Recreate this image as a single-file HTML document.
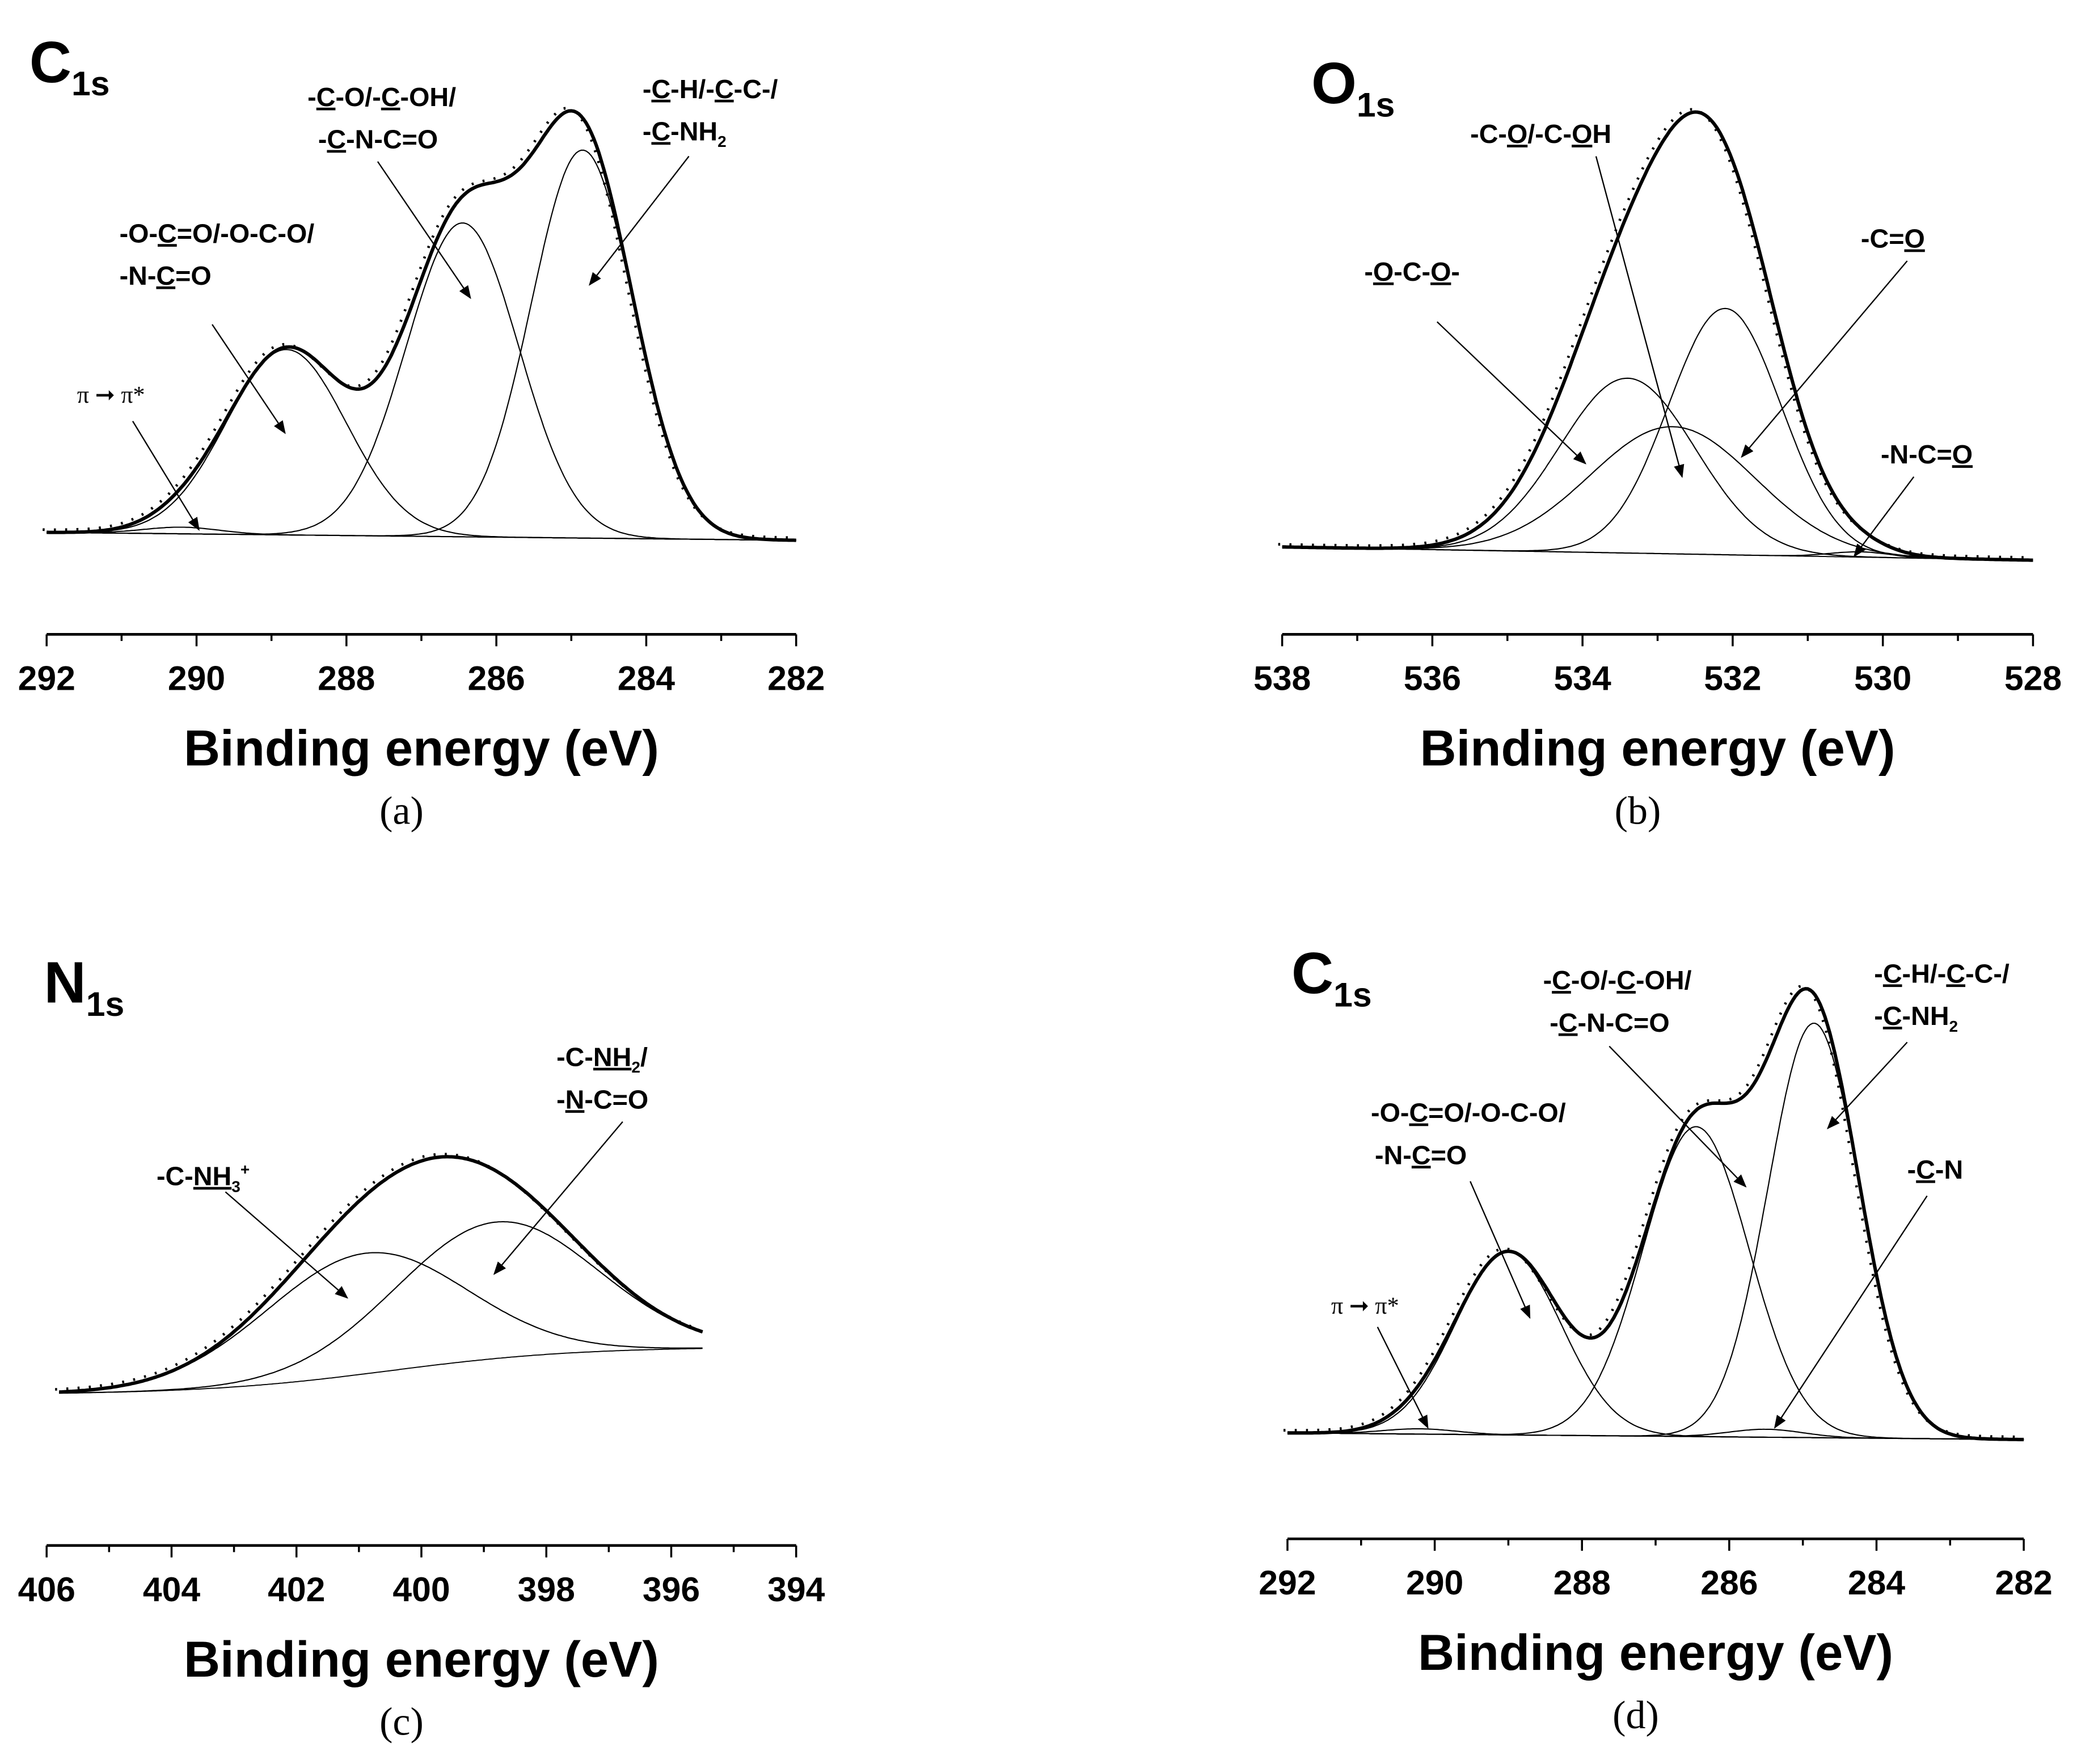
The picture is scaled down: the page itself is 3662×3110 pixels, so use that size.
<!DOCTYPE html>
<html><head><meta charset="utf-8"><style>
html,body{margin:0;padding:0;background:#fff}
svg{display:block}
.t{font-family:"Liberation Sans",sans-serif;font-weight:bold;fill:#000}
.s{font-family:"Liberation Serif",serif;fill:#000}
</style></head><body>
<svg id="fig" width="3662" height="3110" viewBox="0 0 1568 1332" xmlns="http://www.w3.org/2000/svg">
<defs><marker id="ah" markerWidth="10" markerHeight="8" refX="9" refY="4" orient="auto" markerUnits="userSpaceOnUse"><path d="M0,0 L10,4 L0,8 z" fill="#000"/></marker></defs>
<g id="ann">
<text class="t" x="22" y="62" font-size="44">C<tspan font-size="26" dy="10">1s</tspan></text>
<text class="s" x="58" y="304" font-size="18">π ➞ π*</text>
<line x1="100" y1="318" x2="150" y2="400" stroke="#000" marker-end="url(#ah)"/>
<text class="t" x="90" y="183" font-size="20">-O-<tspan text-decoration="underline">C</tspan>=O/-O-C-O/</text>
<text class="t" x="90" y="215" font-size="20">-N-<tspan text-decoration="underline">C</tspan>=O</text>
<line x1="160" y1="245" x2="215" y2="327" stroke="#000" marker-end="url(#ah)"/>
<text class="t" x="232" y="80" font-size="20">-<tspan text-decoration="underline">C</tspan>-O/-<tspan text-decoration="underline">C</tspan>-OH/</text>
<text class="t" x="240" y="112" font-size="20">-<tspan text-decoration="underline">C</tspan>-N-C=O</text>
<line x1="285" y1="122" x2="355" y2="225" stroke="#000" marker-end="url(#ah)"/>
<text class="t" x="485" y="74" font-size="20">-<tspan text-decoration="underline">C</tspan>-H/-<tspan text-decoration="underline">C</tspan>-C-/</text>
<text class="t" x="485" y="106" font-size="20">-<tspan text-decoration="underline">C</tspan>-NH<tspan font-size="12" dy="5">2</tspan></text>
<line x1="520" y1="118" x2="445" y2="215" stroke="#000" marker-end="url(#ah)"/>

<text class="t" x="990" y="78" font-size="44">O<tspan font-size="26" dy="10">1s</tspan></text>
<text class="t" x="1110" y="108" font-size="20">-C-<tspan text-decoration="underline">O</tspan>/-C-<tspan text-decoration="underline">O</tspan>H</text>
<line x1="1205" y1="118" x2="1270" y2="360" stroke="#000" marker-end="url(#ah)"/>
<text class="t" x="1030" y="212" font-size="20">-<tspan text-decoration="underline">O</tspan>-C-<tspan text-decoration="underline">O</tspan>-</text>
<line x1="1085" y1="243" x2="1197" y2="350" stroke="#000" marker-end="url(#ah)"/>
<text class="t" x="1405" y="187" font-size="20">-C=<tspan text-decoration="underline">O</tspan></text>
<line x1="1440" y1="197" x2="1315" y2="345" stroke="#000" marker-end="url(#ah)"/>
<text class="t" x="1420" y="350" font-size="20">-N-C=<tspan text-decoration="underline">O</tspan></text>
<line x1="1445" y1="360" x2="1400" y2="420" stroke="#000" marker-end="url(#ah)"/>

<text class="t" x="33" y="757" font-size="44">N<tspan font-size="26" dy="10">1s</tspan></text>
<text class="t" x="118" y="895" font-size="20">-C-<tspan text-decoration="underline">NH</tspan><tspan font-size="12" dy="5">3</tspan><tspan font-size="12" dy="-13">+</tspan></text>
<line x1="170" y1="900" x2="262" y2="980" stroke="#000" marker-end="url(#ah)"/>
<text class="t" x="420" y="805" font-size="20">-C-<tspan text-decoration="underline">NH</tspan><tspan font-size="12" dy="5">2</tspan><tspan dy="-5">/</tspan></text>
<text class="t" x="420" y="837" font-size="20">-<tspan text-decoration="underline">N</tspan>-C=O</text>
<line x1="470" y1="847" x2="373" y2="962" stroke="#000" marker-end="url(#ah)"/>

<text class="t" x="975" y="750" font-size="44">C<tspan font-size="26" dy="10">1s</tspan></text>
<text class="t" x="1415" y="742" font-size="20">-<tspan text-decoration="underline">C</tspan>-H/-<tspan text-decoration="underline">C</tspan>-C-/</text>
<text class="t" x="1415" y="774" font-size="20">-<tspan text-decoration="underline">C</tspan>-NH<tspan font-size="12" dy="5">2</tspan></text>
<line x1="1440" y1="787" x2="1380" y2="852" stroke="#000" marker-end="url(#ah)"/>
<text class="t" x="1165" y="747" font-size="20">-<tspan text-decoration="underline">C</tspan>-O/-<tspan text-decoration="underline">C</tspan>-OH/</text>
<text class="t" x="1170" y="779" font-size="20">-<tspan text-decoration="underline">C</tspan>-N-C=O</text>
<line x1="1215" y1="790" x2="1318" y2="896" stroke="#000" marker-end="url(#ah)"/>
<text class="t" x="1035" y="847" font-size="20">-O-<tspan text-decoration="underline">C</tspan>=O/-O-C-O/</text>
<text class="t" x="1038" y="879" font-size="20">-N-<tspan text-decoration="underline">C</tspan>=O</text>
<line x1="1110" y1="892" x2="1155" y2="995" stroke="#000" marker-end="url(#ah)"/>
<text class="t" x="1440" y="890" font-size="20">-<tspan text-decoration="underline">C</tspan>-N</text>
<line x1="1455" y1="903" x2="1340" y2="1078" stroke="#000" marker-end="url(#ah)"/>
<text class="s" x="1005" y="992" font-size="18">π ➞ π*</text>
<line x1="1040" y1="1002" x2="1078" y2="1078" stroke="#000" marker-end="url(#ah)"/>
</g>
</svg>
<script>
// Panel data (energies in eV, intensities in arbitrary units)
const aCenters=[284.85,286.45,288.8,290.2];
const aHeights=[293,237,140,5];
const aSigmas=[0.68,0.75,0.8,0.5];
const aTicks=[292,290,288,286,284,282];
const bCenters=[533.4,532.1,532.8,530.3];
const bHeights=[132,186,96,4];
const bSigmas=[0.9,0.75,1.1,0.4];
const bTicks=[538,536,534,532,530,528];
const cCenters=[400.9,398.8];
const cHeights=[91,103];
const cSigmas=[1.6,1.6];
const cTicks=[406,404,402,400,398,396,394];
const dCenters=[284.85,286.45,289.0,285.5,290.2];
const dHeights=[313,234,138,6,4];
const dSigmas=[0.62,0.72,0.72,0.5,0.5];
const dTicks=[292,290,288,286,284,282];

const svg=document.getElementById('fig');
const NS='http://www.w3.org/2000/svg';
function mk(tag,attrs,parent){const e=document.createElementNS(NS,tag);for(const k in attrs)e.setAttribute(k,attrs[k]);(parent||svg).appendChild(e);return e;}

function panel(p){
  const g=mk('g',{});
  
  
  const X=e=>p.x0+(p.emax-e)/(p.emax-p.emin)*(p.x1-p.x0);
  const ax=mk('line',{x1:p.x0,y1:p.ay,x2:p.x1,y2:p.ay,stroke:'#000','stroke-width':2},g);
  
  
  for(let e=p.emin;e<=p.emax+1e-9;e+=1){
    const major=Math.abs((e-p.emin)%2)<1e-6;
    mk('line',{x1:X(e),y1:p.ay,x2:X(e),y2:p.ay+(major?9:5),stroke:'#000','stroke-width':1.5},g);
  }
  p.ticks.forEach(t=>{
    const tx=mk('text',{x:X(t),'text-anchor':'middle',class:'t','font-size':26},g);
    
    
    tx.setAttribute('y',p.ay+42);
    tx.textContent=t;
  });
  const xl=mk('text',{x:(p.x0+p.x1)/2,y:p.ay+99,'text-anchor':'middle',class:'t','font-size':38},g);
  
  
  xl.textContent='Binding energy (eV)';
  const cap=mk('text',{x:(p.x0+p.x1)/2-15,y:p.ay+143,'text-anchor':'middle',class:'s','font-size':30},g);
  
  
  cap.textContent='('+p.id+')';
  const N=300, pts=[];
  for(let i=0;i<=N;i++){const e=p.dmax-(p.dmax-p.dmin)*i/N;pts.push(e);}
  const gauss=(e,k)=>p.h[k]*Math.exp(-((e-p.c[k])**2)/(2*p.s[k]*p.s[k]));
  const bl=p.base;
  const path=f=>pts.map((e,i)=>(i?'L':'M')+X(e).toFixed(1)+','+f(e).toFixed(1)).join(' ');
  const b=mk('path',{d:path(e=>bl(e)),fill:'none',stroke:'#000','stroke-width':0.8},g);
  
  
  p.c.forEach((c,k)=>{
    const cp=mk('path',{d:path(e=>bl(e)-gauss(e,k)),fill:'none',stroke:'#000','stroke-width':0.9},g);
    
    
  });
  const env=e=>{let s=bl(e);p.c.forEach((c,k)=>s-=gauss(e,k));return s;};
  const ep=mk('path',{d:path(env),fill:'none',stroke:'#000','stroke-width':2.6},g);
  
  
  const dp=mk('path',{d:pts.map((e,i)=>(i?'L':'M')+(X(e)-3).toFixed(1)+','+(env(e)-2).toFixed(1)).join(' '),fill:'none',stroke:'#000','stroke-width':2,'stroke-dasharray':'1.5 7'},g);
  
  
}
panel({id:'a',x0:35,x1:601,ay:479,emin:282,emax:292,dmin:282,dmax:292,ticks:aTicks,c:aCenters,h:aHeights,s:aSigmas,base:e=>402+(292-e)*0.6});
panel({id:'b',x0:968,x1:1535,ay:479,emin:528,emax:538,dmin:528,dmax:538,ticks:bTicks,c:bCenters,h:bHeights,s:bSigmas,base:e=>413+(538-e)*1.0});
panel({id:'c',x0:35,x1:601,ay:1167,emin:394,emax:406,dmin:395.5,dmax:405.8,ticks:cTicks,c:cCenters,h:cHeights,s:cSigmas,base:e=>1053-36/(1+Math.exp(-(400.5-e)/1.5))});
panel({id:'d',x0:972,x1:1528,ay:1162,emin:282,emax:292,dmin:282,dmax:292,ticks:dTicks,c:dCenters,h:dHeights,s:dSigmas,base:e=>1082+(292-e)*0.5});
</script>
</body></html>
